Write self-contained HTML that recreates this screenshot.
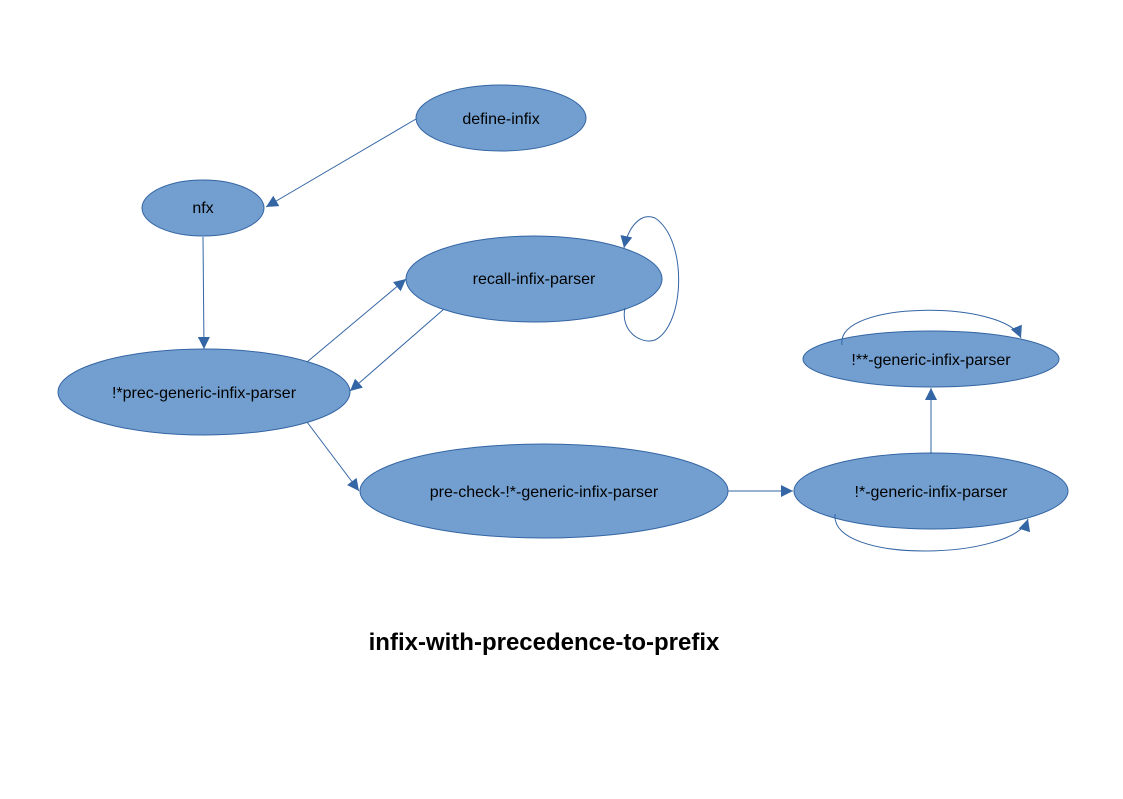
<!DOCTYPE html>
<html><head><meta charset="utf-8"><style>
html,body{margin:0;padding:0;background:#fff;}
text{font-family:"Liberation Sans",sans-serif;}
</style></head><body>
<svg width="1123" height="794" xmlns="http://www.w3.org/2000/svg">
<defs>
<marker id="a" viewBox="0 0 10 10" refX="10" refY="5" markerWidth="12" markerHeight="12" markerUnits="userSpaceOnUse" orient="auto">
<path d="M0,0 L10,5 L0,10 z" fill="#3465a4"/></marker>
</defs>
<g fill="#729fcf" stroke="#3465a4" stroke-width="1">
<ellipse cx="501" cy="118" rx="85" ry="33"/>
<ellipse cx="203" cy="208" rx="61" ry="28"/>
<ellipse cx="534" cy="279" rx="128" ry="43"/>
<ellipse cx="204" cy="392" rx="146" ry="43"/>
<ellipse cx="544" cy="491" rx="184" ry="47"/>
<ellipse cx="931" cy="491" rx="137" ry="38"/>
<ellipse cx="931" cy="359" rx="128" ry="28"/>
</g>
<g fill="none" stroke="#3465a4" stroke-width="1" marker-end="url(#a)">
<line x1="416" y1="119" x2="266" y2="207"/>
<line x1="203" y1="237" x2="204" y2="349"/>
<line x1="307" y1="362" x2="406" y2="279"/>
<line x1="444" y1="309" x2="350" y2="391"/>
<line x1="307" y1="422" x2="359" y2="491"/>
<line x1="728" y1="491" x2="793" y2="491"/>
<line x1="931" y1="454" x2="931" y2="388"/>
<path d="M625,308 C620,330 640,345 655,340 C685,325 688,240 655,218 C640,212 628,228 624,248"/>
<path d="M842,345 C835,300 1005,300 1021,338"/>
<path d="M835,514 C830,565 1015,560 1028,519"/>
</g>
<g font-size="16" text-anchor="middle" fill="#000">
<text x="501" y="124">define-infix</text>
<text x="203" y="213">nfx</text>
<text x="534" y="284">recall-infix-parser</text>
<text x="204" y="398">!*prec-generic-infix-parser</text>
<text x="544" y="497">pre-check-!*-generic-infix-parser</text>
<text x="931" y="497">!*-generic-infix-parser</text>
<text x="931" y="365">!**-generic-infix-parser</text>
</g>
<text x="544" y="650" font-size="24" font-weight="bold" text-anchor="middle">infix-with-precedence-to-prefix</text>
</svg>
</body></html>
